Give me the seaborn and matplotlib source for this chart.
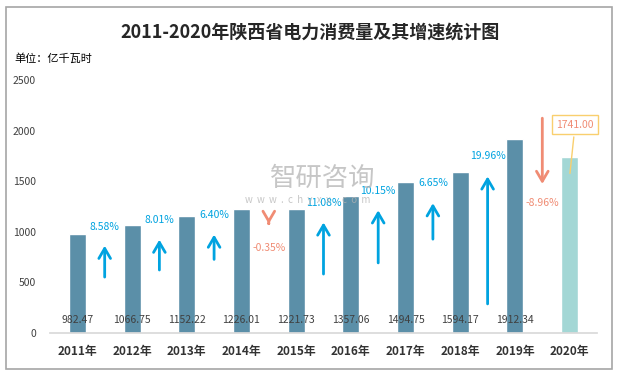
import matplotlib
matplotlib.use("Agg")
import matplotlib.pyplot as plt
import seaborn as sns
import pandas as pd
from matplotlib.patches import Rectangle

years = ["2011年", "2012年", "2013年", "2014年", "2015年",
         "2016年", "2017年", "2018年", "2019年", "2020年"]
consumption = [982.47, 1066.75, 1152.22, 1226.01, 1221.73,
               1357.06, 1494.75, 1594.17, 1912.34, 1741.00]
growth = [None, "8.58%", "8.01%", "6.40%", "-0.35%",
          "11.08%", "10.15%", "6.65%", "19.96%", "-8.96%"]
# arrow start / end values and label height, per year
arrow_from = [None, 525, 595, 700, 1110, 555, 665, 900, 260, 2150]
arrow_to = [None, 890, 950, 1000, 1050, 1120, 1240, 1310, 1575, 1445]
label_y = [None, 1050, 1120, 1170, 840, 1280, 1400, 1485, 1750, 1280]

sns.set_theme(style="white")
plt.rcParams["font.family"] = ["Noto Sans CJK SC", "DejaVu Sans"]

bar_color = "#5B8FA8"
last_color = "#A3D7D5"
up_color = "#00A3E0"
down_color = "#F08C74"

df = pd.DataFrame({"year": years, "value": consumption})

fig = plt.figure(figsize=(6.17, 3.75), dpi=100)
ax = fig.add_axes([0.081, 0.112, 0.8866, 0.6747])

# watermark (behind everything)
fig.text(0.523, 0.523, "智研咨询", fontsize=19, color="#B4B4B4", alpha=0.75,
         ha="center", va="center", zorder=0)
fig.text(0.499, 0.467, "w  w  w  .  c  h  y  x  x  .  c  o  m", fontsize=7,
         color="#B4B4B4", alpha=0.75, ha="center", va="center", zorder=0)

sns.barplot(data=df, x="year", y="value", hue="year",
            palette=[bar_color] * 9 + [last_color], legend=False,
            width=0.31, saturation=1, ax=ax)
ax.patch.set_alpha(0)

ax.set_ylim(0, 2500)
ax.set_xlim(-0.5, 9.5)
ax.set_yticks(range(0, 2501, 500))
ax.set_xlabel("")
ax.set_ylabel("")
for s in ["top", "right", "left"]:
    ax.spines[s].set_visible(False)
ax.spines["bottom"].set_color("#D9D9D9")
ax.tick_params(axis="y", labelsize=7.5, colors="#404040", length=0, pad=10)
ax.tick_params(axis="x", labelsize=8.5, colors="#333333", length=0, pad=9)
for t in ax.get_xticklabels():
    t.set_fontweight("bold")

# values at the bottom of the bars
for i, v in enumerate(consumption[:-1]):
    ax.text(i, 130, f"{v:.2f}", ha="center", va="center",
            fontsize=7.5, color="#404040")

# growth arrows and labels
for i in range(1, len(years)):
    up = not growth[i].startswith("-")
    c = up_color if up else down_color
    ax.annotate("", xy=(i - 0.5, arrow_to[i]), xytext=(i - 0.5, arrow_from[i]),
                arrowprops=dict(arrowstyle="->,head_width=0.35,head_length=0.6",
                                color=c, lw=2))
    ax.text(i - 0.5, label_y[i], growth[i], ha="center", va="center",
            fontsize=7.5, color=c)

# callout for 2020
ax.annotate(f"{consumption[-1]:.2f}", xy=(9, 1550), xytext=(9.1, 2060),
            ha="center", va="center", fontsize=7.5, color=down_color,
            bbox=dict(boxstyle="square,pad=0.4", fc="white", ec="#F9CF6E", lw=1),
            arrowprops=dict(arrowstyle="-", color="#F9CF6E", lw=1))

fig.text(0.503, 0.915, "2011-2020年陕西省电力消费量及其增速统计图",
         fontsize=13, fontweight="bold", color="#262626",
         ha="center", va="center")
fig.text(0.023, 0.845, "单位：亿千瓦时", fontsize=8, color="black",
         ha="left", va="center")

fig.patches.append(Rectangle((6 / 617, 6 / 375), 606 / 617, 362 / 375,
                             transform=fig.transFigure, fill=False,
                             ec="#A6A6A6", lw=1.2))

fig.savefig("out.png", dpi=100)
